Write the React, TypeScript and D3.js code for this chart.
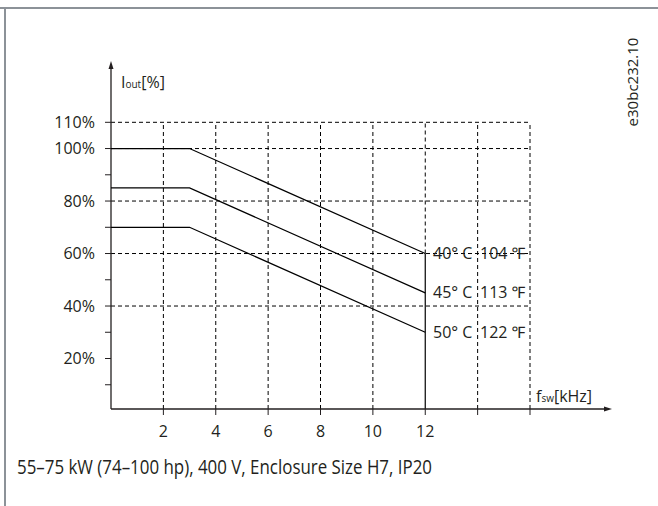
import React from "react";
import * as d3 from "d3";

const xTicks = [2, 4, 6, 8, 10, 12, 14, 16];
const xTickLabels = ["2", "4", "6", "8", "10", "12"];
const yGrid = [40, 60, 80, 100, 110];
const yMinorTicks = [10, 20, 30, 40, 50, 60, 70, 80, 90, 100, 110];
const yTickLabels = [20, 40, 60, 80, 100, 110];

const seriesNames = ["40°C", "45°C", "50°C"];
const seriesF = ["104 ℉", "113 ℉", "122 ℉"];
const seriesFreq = [0, 3, 12];
const series40 = [100, 100, 60];
const series45 = [85, 85, 45];
const series50 = [70, 70, 30];
const allSeries = [series40, series45, series50];

export default function App() {
  const W = 658, H = 506;
  const x = d3.scaleLinear().domain([0, 16]).range([111, 530]);
  const y = d3.scaleLinear().domain([0, 110]).range([411, 122.3]);
  const line = d3.line<number>().x((_, i) => x(seriesFreq[i])).y((d) => y(d));
  const font = "'Open Sans', 'Noto Sans', sans-serif";
  const txt = "#231f20";
  const axisY = y(0) - 2;

  return (
    <svg width={W} height={H} style={{ position: "absolute", left: 0, top: 0, background: "#fff" }}>
      <rect x={0} y={0} width={W} height={H} fill="#fff" />
      {/* frame */}
      <line x1={0} x2={W} y1={8} y2={8} stroke="#8c9298" strokeWidth={2} />
      <line x1={5} x2={5} y1={8} y2={H} stroke="#8c9298" strokeWidth={2} />

      {/* grid */}
      {yGrid.map((v) => (
        <line key={"h" + v} x1={x(0)} x2={x(16)} y1={y(v)} y2={y(v)} stroke="#000" strokeWidth={1} strokeDasharray="4,3" />
      ))}
      {xTicks.map((v) => (
        <line key={"v" + v} x1={x(v)} x2={x(v)} y1={v === 12 ? y(60) : axisY} y2={y(110)} stroke="#000" strokeWidth={1} strokeDasharray="4,3" />
      ))}
      <line x1={x(12)} x2={x(12)} y1={axisY} y2={y(60)} stroke="#000" strokeWidth={1.2} />

      {/* axes */}
      <line x1={x(0)} x2={x(0)} y1={axisY} y2={66} stroke="#231f20" strokeWidth={1.3} />
      <path d={`M${x(0)},61 L${x(0) - 2.5},69 L${x(0) + 2.5},69 Z`} fill="#231f20" />
      <line x1={x(0)} x2={607} y1={axisY} y2={axisY} stroke="#231f20" strokeWidth={1.3} />
      <path d={`M612,${axisY} L604,${axisY - 2.5} L604,${axisY + 2.5} Z`} fill="#231f20" />

      {yMinorTicks.map((v) => (
        <line key={"yt" + v} x1={x(0) - 6} x2={x(0)} y1={y(v)} y2={y(v)} stroke="#231f20" strokeWidth={1} />
      ))}
      {xTicks.map((v) => (
        <line key={"xt" + v} x1={x(v)} x2={x(v)} y1={axisY} y2={axisY + 6} stroke="#231f20" strokeWidth={1} />
      ))}

      {yTickLabels.map((v) => (
        <text key={"yl" + v} x={95} y={y(v)} dy="0.35em" textAnchor="end" fontFamily={font} fontSize={16} fill={txt}>
          {v}%
        </text>
      ))}
      {xTickLabels.map((s, i) => (
        <text key={"xl" + s} x={x(xTicks[i])} y={431} dy="0.35em" textAnchor="middle" fontFamily={font} fontSize={16} fill={txt}>
          {s}
        </text>
      ))}

      {/* curves */}
      {allSeries.map((s, i) => (
        <path key={"s" + i} d={line(s) || ""} fill="none" stroke="#000" strokeWidth={1.2} />
      ))}
      {allSeries.map((s, i) => (
        <g key={"lab" + i}>
          <text x={433} y={y(s[2])} dy="0.35em" fontFamily={font} fontSize={16} fill={txt}>
            {seriesNames[i].replace("°", "° ")}
          </text>
          <text x={480} y={y(s[2])} dy="0.35em" fontFamily={font} fontSize={16} fill={txt}>
            {seriesF[i]}
          </text>
        </g>
      ))}

      {/* axis titles */}
      <text x={121} y={82} dy="0.35em" fontFamily={font} fontSize={16} fill={txt}>
        I<tspan fontSize={10}>out</tspan>[%]
      </text>
      <text x={536} y={396} dy="0.35em" fontFamily={font} fontSize={16} fill={txt}>
        f<tspan fontSize={10}>sw</tspan>[kHz]
      </text>

      {/* id */}
      <text transform="translate(633,82) rotate(-90)" textAnchor="middle" dy="0.35em" fontFamily={font} fontSize={15} fill={txt}>
        e30bc232.10
      </text>

      {/* caption */}
      <text x={17} y={467} dy="0.35em" fontFamily={font} fontSize={20} fill={txt} textLength={415} lengthAdjust="spacingAndGlyphs">
        55–75 kW (74–100 hp), 400 V, Enclosure Size H7, IP20
      </text>
    </svg>
  );
}
